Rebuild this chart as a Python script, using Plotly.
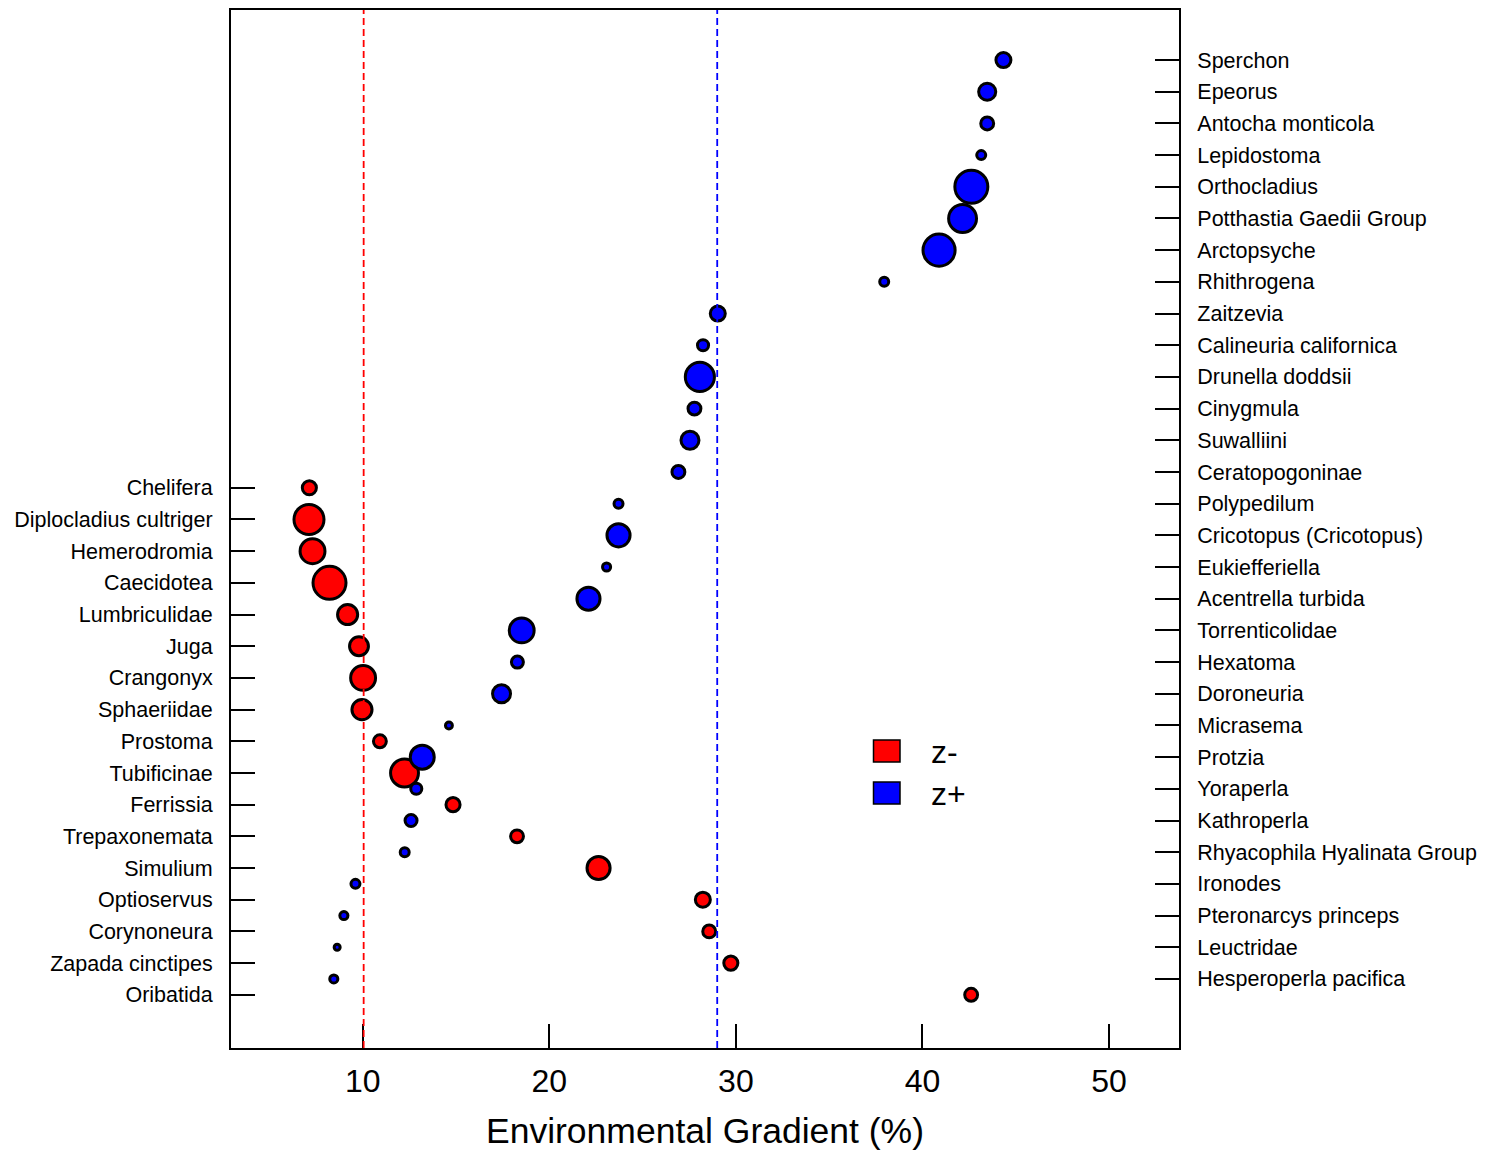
import plotly.graph_objects as go

# ---- data ----
left_taxa = ["Chelifera", "Diplocladius cultriger", "Hemerodromia", "Caecidotea",
             "Lumbriculidae", "Juga", "Crangonyx", "Sphaeriidae", "Prostoma",
             "Tubificinae", "Ferrissia", "Trepaxonemata", "Simulium", "Optioservus",
             "Corynoneura", "Zapada cinctipes", "Oribatida"]
left_cp = [7.14, 7.12, 7.31, 8.22, 9.19, 9.80, 10.02, 9.96, 10.92, 12.24,
           14.84, 18.27, 22.64, 28.23, 28.57, 29.73, 42.61]
left_z = [5.7, 11.0, 9.3, 12.0, 7.7, 7.3, 9.3, 7.7, 5.3, 10.3,
          5.7, 5.3, 8.7, 6.0, 5.3, 5.7, 5.3]

right_taxa = ["Sperchon", "Epeorus", "Antocha monticola", "Lepidostoma", "Orthocladius",
              "Potthastia Gaedii Group", "Arctopsyche", "Rhithrogena", "Zaitzevia",
              "Calineuria californica", "Drunella doddsii", "Cinygmula", "Suwalliini",
              "Ceratopogoninae", "Polypedilum", "Cricotopus (Cricotopus)", "Eukiefferiella",
              "Acentrella turbida", "Torrenticolidae", "Hexatoma", "Doroneuria", "Micrasema",
              "Protzia", "Yoraperla", "Kathroperla", "Rhyacophila Hyalinata Group",
              "Ironodes", "Pteronarcys princeps", "Leuctridae", "Hesperoperla pacifica"]
right_cp = [44.34, 43.47, 43.47, 43.15, 42.62, 42.15, 40.89, 37.95, 29.03, 28.24,
            28.07, 27.78, 27.54, 26.92, 23.71, 23.71, 23.07, 22.10, 18.52, 18.29,
            17.44, 14.62, 13.19, 12.87, 12.59, 12.25, 9.61, 8.99, 8.63, 8.45]
right_z = [6.0, 6.7, 5.3, 4.0, 12.0, 10.3, 11.7, 4.0, 6.0, 4.7,
           10.7, 5.3, 7.0, 5.3, 4.0, 8.7, 3.7, 8.7, 9.3, 5.0,
           7.0, 3.3, 9.0, 4.7, 5.0, 4.0, 4.0, 3.7, 3.0, 3.7]

x_ticks = [10, 20, 30, 40, 50]
sumz_minus_cp = 10.05
sumz_plus_cp = 29.0

# ---- derived positions (rank order) ----
right_y = [1 + i for i in range(len(right_taxa))]
left_y = [len(right_taxa) - len(left_taxa) + 1.5 + i for i in range(len(left_taxa))]

LINE_W = 3
left_size = [3 * z - LINE_W for z in left_z]
right_size = [3 * z - LINE_W for z in right_z]

FONT = "Liberation Sans, Arial, sans-serif"
YR = [32.18, -0.58]

fig = go.Figure()
fig.add_trace(go.Scatter(
    x=left_cp, y=left_y, mode="markers", yaxis="y", showlegend=False,
    marker=dict(color="#FF0000", size=left_size, opacity=1,
                line=dict(color="black", width=LINE_W)),
    name="z-"))
fig.add_trace(go.Scatter(
    x=right_cp, y=right_y, mode="markers", yaxis="y2", showlegend=False,
    marker=dict(color="#0000FF", size=right_size, opacity=1,
                line=dict(color="black", width=LINE_W)),
    name="z+"))

# change-point lines
for xv, col in [(sumz_minus_cp, "#FF0000"), (sumz_plus_cp, "#0000FF")]:
    fig.add_shape(type="line", xref="x", yref="paper", x0=xv, x1=xv, y0=0, y1=1,
                  line=dict(color=col, width=1.8, dash="7px,4px"), layer="above")

# legend (paper coords); plot area spans x 231..1179, y 10..1048 on screen
def px2paper_x(px):
    return (px - 231) / 948.0

def px2paper_y(py):
    return (1048 - py) / 1038.0

for cy, col, txt in [(751, "#FF0000", "z-"), (793, "#0000FF", "z+")]:
    fig.add_shape(type="rect", xref="paper", yref="paper",
                  x0=px2paper_x(873.5), x1=px2paper_x(900),
                  y0=px2paper_y(cy + 11), y1=px2paper_y(cy - 11),
                  fillcolor=col, line=dict(color="black", width=1.5), layer="above")
    fig.add_annotation(xref="paper", yref="paper", x=px2paper_x(929), y=px2paper_y(cy + 1),
                       text=txt, showarrow=False, xanchor="left", yanchor="middle",
                       font=dict(size=32, color="black", family=FONT))

axis_common = dict(showgrid=False, zeroline=False, showline=True, linecolor="black",
                   linewidth=2, ticks="inside", ticklen=24, tickwidth=2, tickcolor="black",
                   automargin=False)

# page body has an 8px margin; figure is sized to compensate
fig.update_layout(
    width=1485, height=1147,
    margin=dict(l=223, r=314, t=2, b=107),
    paper_bgcolor="white", plot_bgcolor="white",
    font=dict(family=FONT, color="black"),
    xaxis=dict(range=[2.94, 53.75], tickvals=x_ticks, ticktext=[str(v) for v in x_ticks],
               tickfont=dict(size=32), mirror=True, ticklabelstandoff=4,
               title=dict(text="Environmental Gradient (%)", font=dict(size=35.5), standoff=20),
               **axis_common),
    yaxis=dict(range=YR, tickvals=left_y, ticktext=left_taxa, tickfont=dict(size=21.5),
               mirror=True, ticklabelstandoff=12, **axis_common),
    yaxis2=dict(range=YR, tickvals=right_y, ticktext=right_taxa, tickfont=dict(size=21.5),
                overlaying="y", side="right", ticklabelstandoff=12, **axis_common),
)

fig.write_html("out.html")
